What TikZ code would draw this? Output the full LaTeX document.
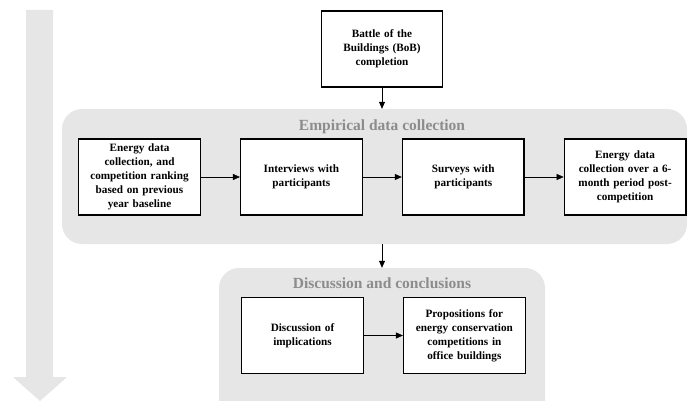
\documentclass[tikz,border=0pt]{standalone}
\usepackage{fontspec}
\setmainfont{Liberation Serif}
\usetikzlibrary{arrows.meta, positioning, calc}
\definecolor{panelgray}{HTML}{E6E6E6}
\definecolor{titlegray}{HTML}{8C8C8C}

\begin{document}
\begin{tikzpicture}[
  x=1pt, y=-1pt,
  node distance=39pt,
  stepbox/.style={rectangle, draw=black, line width=1.2pt, fill=white, minimum width=121pt, minimum height=76pt, text width=115pt, align=center, font=\fontsize{11.2}{14}\selectfont\bfseries},
  panel/.style={rectangle, rounded corners=20pt, fill=panelgray, inner sep=0pt},
  paneltitle/.style={font=\fontsize{15.5}{17}\selectfont\bfseries, text=titlegray},
  flow/.style={-{Triangle[length=7pt, width=6pt]}, line width=0.6pt}
]
  \clip (0,0) rectangle (688,401);

  % time arrow on the left
  \fill[panelgray] (26,10) -- (53,10) -- (53,377) -- (67,377) -- (40,401) -- (13,377) -- (26,377) -- cycle;

  % grey phase panels
  \node[panel, minimum width=625pt, minimum height=135pt] (empirical) at (374.5,176.5) {};
  \node[panel, minimum width=326pt, minimum height=170pt] (discussion) at (382,353) {};
  \node[paneltitle] (emptitle) at (382,127) {Empirical data collection};
  \node[paneltitle] (distitle) at (382,283) {Discussion and conclusions};

  % boxes
  \node[stepbox] (bob) at (382,49) {Battle of the\\Buildings (BoB)\\completion};
  \node[stepbox] (baseline) at (139.5,177) {Energy data\\collection, and\\competition ranking\\based on previous\\year baseline};
  \node[stepbox, right=of baseline] (interviews) {Interviews with\\participants};
  \node[stepbox, right=of interviews] (surveys) {Surveys with\\participants};
  \node[stepbox, right=of surveys] (postdata) {Energy data\\collection over a 6-\\month period post-\\competition};
  \node[stepbox] (implications) at (302.5,335.5) {Discussion of\\implications};
  \node[stepbox, right=of implications] (propositions) {Propositions for\\energy conservation\\competitions in\\office buildings};

  % connectors
  \draw[flow] (bob.south) -- (bob.south |- empirical.north);
  \draw[flow] (baseline) -- (interviews);
  \draw[flow] (interviews) -- (surveys);
  \draw[flow] (surveys) -- (postdata);
  \draw[flow] (bob.south |- empirical.south) -- (bob.south |- discussion.north);
  \draw[flow] (implications) -- (propositions);
\end{tikzpicture}
\end{document}
